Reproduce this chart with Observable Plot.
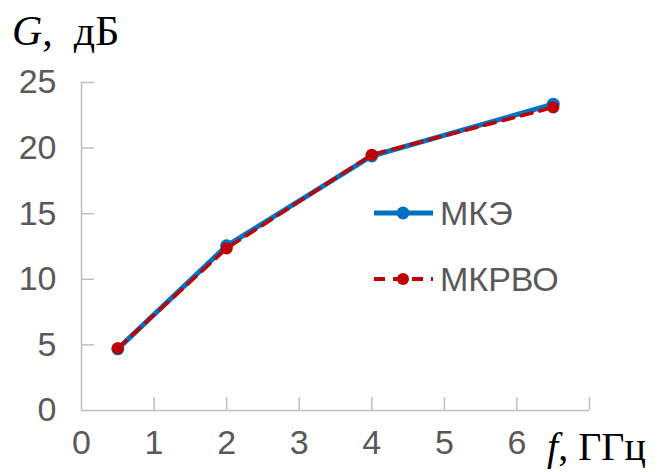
<!DOCTYPE html>
<html>
<head>
<meta charset="utf-8">
<script src="https://cdn.jsdelivr.net/npm/d3@7"></script>
<script src="https://cdn.jsdelivr.net/npm/@observablehq/plot@0.6"></script>
<style>
  html, body { margin: 0; padding: 0; background: #fff; }
</style>
</head>
<body>
<div id="chart"></div>
<script>
// Data
const freq = [0.5, 2, 4, 6.5];
const gMKE = [4.7, 12.55, 19.4, 23.35];
const gMKRVO = [4.75, 12.35, 19.5, 23.1];
const seriesNames = ["МКЭ", "МКРВО"];
const xTickLabels = [0, 1, 2, 3, 4, 5, 6];
const xTickMarks = [1, 2, 3, 4, 5, 6, 7];
const yTickLabels = [0, 5, 10, 15, 20, 25];
const yTickMarks = [5, 10, 15, 20, 25];

const mke = freq.map((f, i) => ({f, g: gMKE[i]}));
const mkrvo = freq.map((f, i) => ({f, g: gMKRVO[i]}));

const axisColor = "#BFBFBF";
const textColor = "#595959";
const blue = "#0070C0";
const red = "#C00000";

const W = 671, H = 472;
const mL = 81, mR = 82, mT = 82, mB = 62;

const plot = Plot.plot({
  width: W,
  height: H,
  marginLeft: mL,
  marginRight: mR,
  marginTop: mT,
  marginBottom: mB,
  style: {fontFamily: "Liberation Sans, Arial, sans-serif", fontSize: "34px", background: "#fff", overflow: "visible"},
  x: {domain: [0, 7], label: null},
  y: {domain: [0, 25], label: null},
  marks: [
    Plot.axisX(xTickLabels, {tickSize: 0, tickPadding: 19, color: textColor, fontSize: 34, label: null}),
    Plot.axisY(yTickLabels, {tickSize: 0, tickPadding: 25, color: textColor, fontSize: 34, label: null}),
    Plot.ruleX([0], {stroke: axisColor, strokeWidth: 1.5}),
    Plot.ruleY([0], {stroke: axisColor, strokeWidth: 1.5}),
    Plot.ruleY(yTickMarks, {stroke: axisColor, strokeWidth: 1.5, insetRight: (W - mL - mR) - 13}),
    Plot.ruleX(xTickMarks, {stroke: axisColor, strokeWidth: 1.5, insetTop: (H - mT - mB) - 13}),
    Plot.line(mke, {x: "f", y: "g", stroke: blue, strokeWidth: 5}),
    Plot.dot(mke, {x: "f", y: "g", r: 6.5, fill: blue}),
    Plot.line(mkrvo, {x: "f", y: "g", stroke: red, strokeWidth: 3.5, strokeDasharray: "11,8"}),
    Plot.dot(mkrvo, {x: "f", y: "g", r: 6, fill: red})
  ]
});

document.getElementById("chart").appendChild(plot);

const svg = d3.select(plot);

// Axis titles
const gt = svg.append("text")
  .attr("x", 12).attr("y", 45)
  .attr("text-anchor", "start")
  .attr("font-family", "Liberation Serif, Times New Roman, serif")
  .attr("font-size", 42)
  .attr("fill", "#000");
gt.append("tspan").attr("font-style", "italic").text("G");
gt.append("tspan").text(",\u00a0\u00a0дБ");

const ft = svg.append("text")
  .attr("x", 547).attr("y", 460)
  .attr("text-anchor", "start")
  .attr("font-family", "Liberation Serif, Times New Roman, serif")
  .attr("font-size", 40)
  .attr("fill", "#000");
ft.append("tspan").attr("font-style", "italic").text("f");
ft.append("tspan").text(", ГГц");

// Legend
const legend = [
  {name: seriesNames[0], color: blue, dash: null, y: 213, r: 6.5, w: 5},
  {name: seriesNames[1], color: red, dash: "11,8", y: 279, r: 6, w: 4}
];
legend.forEach(d => {
  svg.append("line")
    .attr("x1", 374).attr("x2", 433).attr("y1", d.y).attr("y2", d.y)
    .attr("stroke", d.color).attr("stroke-width", d.w)
    .attr("stroke-dasharray", d.dash);
  svg.append("circle")
    .attr("cx", 403).attr("cy", d.y).attr("r", d.r).attr("fill", d.color);
  svg.append("text")
    .attr("x", 440).attr("y", d.y)
    .attr("dy", "0.35em")
    .attr("text-anchor", "start")
    .attr("font-family", "Liberation Sans, Arial, sans-serif")
    .attr("font-size", 34)
    .attr("fill", textColor)
    .text(d.name);
});
</script>
</body>
</html>
